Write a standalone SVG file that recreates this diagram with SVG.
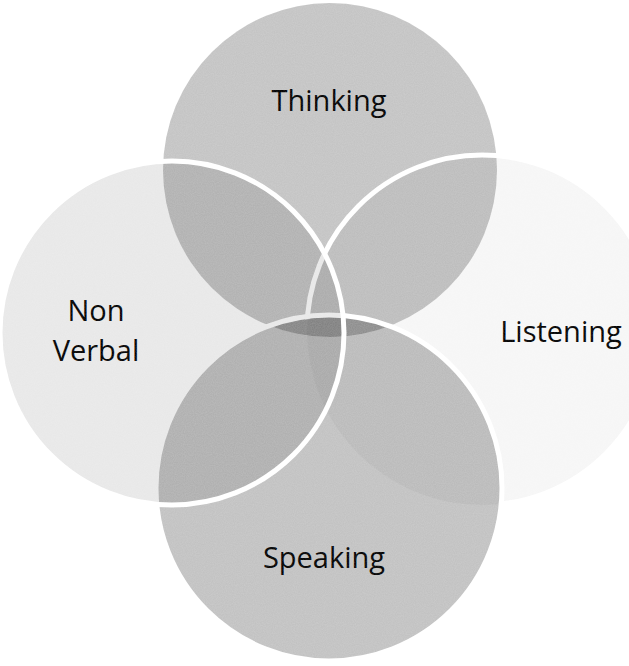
<svg xmlns="http://www.w3.org/2000/svg" width="629" height="666" viewBox="0 0 629 666">
  <style>
    .lbl { font-family: "Open Sans", "Liberation Sans", sans-serif; font-size: 29px; fill: #000; text-anchor: middle; }
    .edge { fill: none; stroke: #ffffff; stroke-width: 5; }
  </style>
  <defs>
    <filter id="grain" x="0" y="0" width="100%" height="100%">
      <feTurbulence type="fractalNoise" baseFrequency="0.9" numOctaves="2" seed="3" result="n"/>
      <feColorMatrix in="n" type="matrix" values="0 0 0 0 1  0 0 0 0 1  0 0 0 0 1  0 0 0 0.55 -0.12" result="w"/>
      <feComposite in="w" in2="SourceGraphic" operator="in"/>
    </filter>
    <mask id="notSpeaking" maskUnits="userSpaceOnUse" x="0" y="0" width="629" height="666">
      <rect width="629" height="666" fill="#fff"/>
      <circle cx="329" cy="488" r="170" fill="#000"/>
    </mask>
  </defs>
  <rect width="629" height="666" fill="#ffffff"/>
  <g id="thinking">
    <circle cx="330" cy="170" r="167" fill="#000" fill-opacity="0.23"/>
    <text class="lbl" x="329" y="111">Thinking</text>
  </g>
  <g id="listening">
    <circle cx="482" cy="330" r="175" fill="#000" fill-opacity="0.035"/>
    <circle class="edge" cx="482" cy="330" r="175" mask="url(#notSpeaking)"/>
    <text class="lbl" x="561" y="342">Listening</text>
  </g>
  <g id="speaking">
    <circle cx="329" cy="488" r="173" fill="#000" fill-opacity="0.24"/>
    <circle class="edge" cx="329" cy="488" r="173"/>
    <text class="lbl" x="324" y="568">Speaking</text>
  </g>
  <g id="non-verbal">
    <circle cx="172" cy="333" r="172" fill="#000" fill-opacity="0.09"/>
    <circle class="edge" cx="172" cy="333" r="172"/>
    <text class="lbl" x="96" y="321">Non</text>
    <text class="lbl" x="96" y="361">Verbal</text>
  </g>
  <g id="connectors"/>
  <rect width="629" height="666" fill="#fff" filter="url(#grain)" opacity="0.35" pointer-events="none"/>
</svg>
